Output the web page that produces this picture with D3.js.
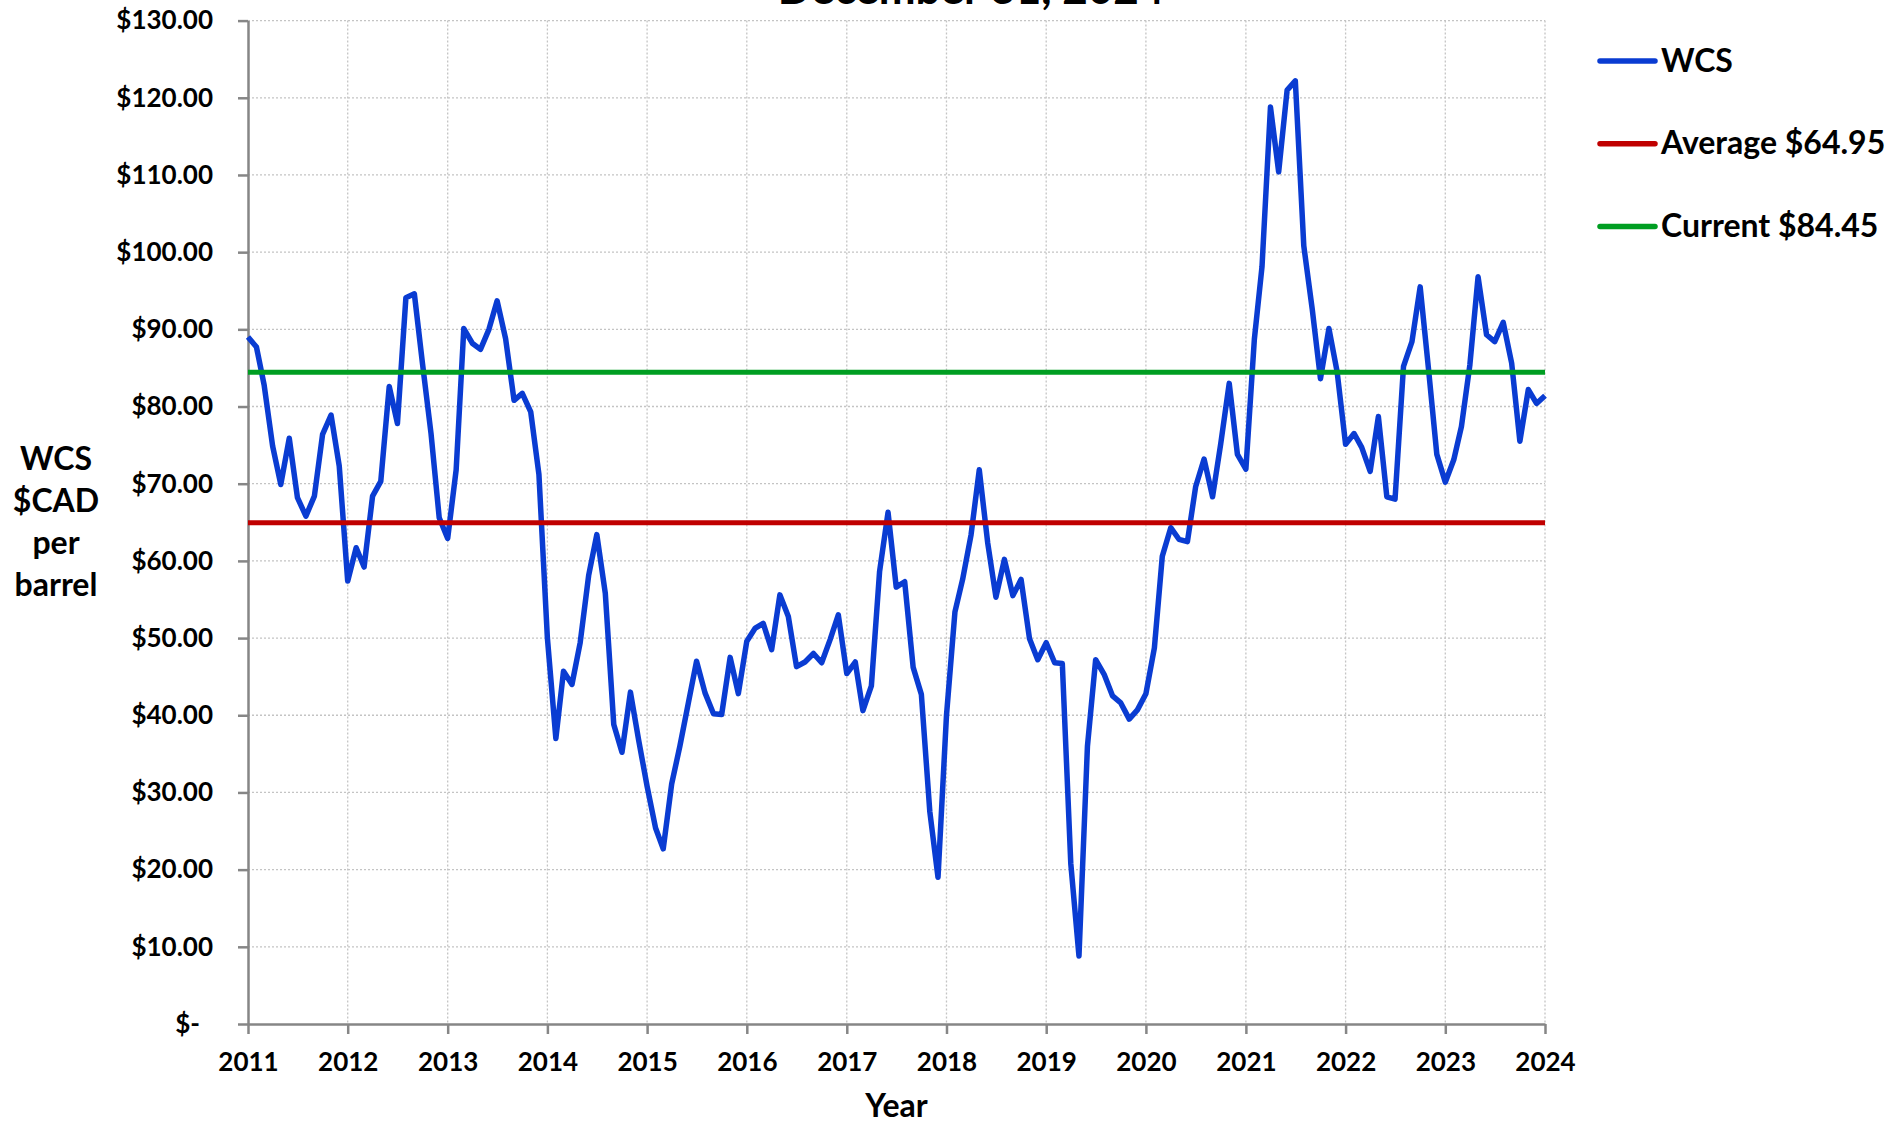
<!DOCTYPE html>
<html>
<head>
<meta charset="utf-8">
<script src="https://cdn.jsdelivr.net/npm/d3@7"></script>
<style>
  body { margin: 0; background: #fff; }
  svg { display: block; }
</style>
</head>
<body>
<div id="chart"></div>
<script>
// Monthly WCS price in $CAD per barrel, Jan 2011 .. Jan 2024
const firstMonth = new Date(2011, 0, 1);
const wcs = [
  89.0, 87.7, 82.8, 74.9, 69.9, 75.9, 68.2, 65.8, 68.4, 76.4, 78.9, 72.3,
  57.4, 61.7, 59.2, 68.4, 70.3, 82.6, 77.8, 94.1, 94.6, 85.5, 76.5, 65.6,
  62.9, 71.8, 90.1, 88.2, 87.4, 90.0, 93.7, 88.8, 80.8, 81.7, 79.3, 71.2,
  50.0, 37.0, 45.7, 44.0, 49.4, 58.1, 63.4, 55.8, 38.8, 35.2, 43.0, 36.8,
  30.8, 25.4, 22.7, 31.1, 36.0, 41.6, 47.0, 42.9, 40.2, 40.1, 47.5, 42.8,
  49.6, 51.3, 51.9, 48.5, 55.6, 52.8, 46.3, 46.9, 48.0, 46.8, 49.8, 53.0,
  45.4, 46.9, 40.6, 43.8, 58.6, 66.3, 56.6, 57.3, 46.2, 42.7, 27.5, 19.0,
  40.0, 53.4, 57.6, 63.4, 71.8, 62.3, 55.3, 60.2, 55.5, 57.6, 49.9, 47.2,
  49.4, 46.8, 46.7, 20.8, 8.8, 36.0, 47.2, 45.3, 42.5, 41.6, 39.5, 40.7,
  42.8, 48.7, 60.6, 64.3, 62.8, 62.5, 69.6, 73.2, 68.3, 75.2, 83.0, 73.8,
  71.9, 88.7, 98.1, 118.8, 110.4, 121.0, 122.2, 100.8, 92.6, 83.6, 90.1, 84.5,
  75.1, 76.5, 74.7, 71.6, 78.7, 68.3, 68.0, 85.2, 88.4, 95.5, 84.7, 73.8,
  70.2, 73.1, 77.4, 85.4, 96.8, 89.3, 88.4, 90.9, 85.6, 75.5, 82.2, 80.4,
  81.4
];
const averagePrice = 64.95;
const currentPrice = 84.45;
const yearTicks = d3.range(2011, 2025);
const priceTicks = d3.range(0, 131, 10);
const legendLabels = ["WCS", `Average $${averagePrice.toFixed(2)}`, `Current $${currentPrice.toFixed(2)}`];
const yTitleLines = ["WCS", "$CAD", "per", "barrel"];
const chartTitle = "December 31, 2024";

const width = 1904;
const height = 1125;
const plotLeft = 248;
const plotRight = 1545;
const plotTop = 20.6;
const plotBottom = 1024;
const font = "Lato, 'Open Sans', sans-serif";

const blue = "#0a3cd2";
const red = "#c00000";
const green = "#009e22";
const axisGray = "#868686";
const gridGray = "#c4c4c4";

const months = wcs.map((_, i) => d3.timeMonth.offset(firstMonth, i));

const x = d3.scaleTime()
  .domain([new Date(yearTicks[0], 0, 1), new Date(yearTicks[yearTicks.length - 1], 0, 1)])
  .range([plotLeft, plotRight]);

const y = d3.scaleLinear()
  .domain([0, 130])
  .range([plotBottom, plotTop]);

const svg = d3.select("#chart")
  .append("svg")
  .attr("width", width)
  .attr("height", height)
  .attr("viewBox", [0, 0, width, height])
  .style("font-family", font)
  .style("font-weight", 700);

// Gridlines
svg.append("g")
  .selectAll("line")
  .data(priceTicks.filter((d) => d > 0))
  .join("line")
  .attr("x1", plotLeft)
  .attr("x2", plotRight)
  .attr("y1", (d) => y(d))
  .attr("y2", (d) => y(d))
  .attr("stroke", gridGray)
  .attr("stroke-width", 1.3)
  .attr("stroke-dasharray", "2,2");

svg.append("g")
  .selectAll("line")
  .data(yearTicks.slice(1))
  .join("line")
  .attr("x1", (d) => x(new Date(d, 0, 1)))
  .attr("x2", (d) => x(new Date(d, 0, 1)))
  .attr("y1", plotTop)
  .attr("y2", plotBottom)
  .attr("stroke", gridGray)
  .attr("stroke-width", 1.3)
  .attr("stroke-dasharray", "2,2");

// Y axis
svg.append("g")
  .attr("transform", `translate(${plotLeft},0)`)
  .call(
    d3.axisLeft(y)
      .tickValues(priceTicks)
      .tickSize(10)
      .tickSizeOuter(0)
      .tickPadding(25)
      .tickFormat((d) => (d === 0 ? "$-" : `$${d.toFixed(2)}`)),
  )
  .call((g) => g.select(".domain").attr("stroke", axisGray).attr("stroke-width", 2.5))
  .call((g) => g.selectAll(".tick line").attr("stroke", axisGray).attr("stroke-width", 2.5))
  .call((g) =>
    g.selectAll(".tick text")
      .attr("fill", "#000")
      .attr("font-size", "26px")
      .attr("font-family", font)
      .attr("font-weight", 700)
      .attr("dx", (d) => (d === 0 ? -13 : 0)),
  );

// X axis
svg.append("g")
  .attr("transform", `translate(0,${plotBottom})`)
  .call(
    d3.axisBottom(x)
      .tickValues(yearTicks.map((d) => new Date(d, 0, 1)))
      .tickSize(10)
      .tickSizeOuter(0)
      .tickPadding(19)
      .tickFormat(d3.timeFormat("%Y")),
  )
  .call((g) => g.select(".domain").attr("stroke", axisGray).attr("stroke-width", 2.5))
  .call((g) => g.selectAll(".tick line").attr("stroke", axisGray).attr("stroke-width", 2.5))
  .call((g) =>
    g.selectAll(".tick text")
      .attr("fill", "#000")
      .attr("font-size", "26px")
      .attr("font-family", font)
      .attr("font-weight", 700),
  );

// WCS series
svg.append("path")
  .datum(wcs)
  .attr("fill", "none")
  .attr("stroke", blue)
  .attr("stroke-width", 5.5)
  .attr("stroke-linejoin", "round")
  .attr("d", d3.line().x((d, i) => x(months[i])).y((d) => y(d)));

// Average and current reference lines
svg.append("g")
  .selectAll("line")
  .data([
    { value: averagePrice, color: red },
    { value: currentPrice, color: green },
  ])
  .join("line")
  .attr("x1", x.range()[0])
  .attr("x2", x.range()[1])
  .attr("y1", (d) => y(d.value))
  .attr("y2", (d) => y(d.value))
  .attr("stroke", (d) => d.color)
  .attr("stroke-width", 5);

// Legend
const legendColors = [blue, red, green];
const legend = svg.append("g")
  .selectAll("g")
  .data(legendLabels)
  .join("g")
  .attr("transform", (d, i) => `translate(1600,${61 + i * 82.8})`);

legend.append("line")
  .attr("x1", 0)
  .attr("x2", 55)
  .attr("stroke", (d, i) => legendColors[i])
  .attr("stroke-width", 5.5)
  .attr("stroke-linecap", "round");

legend.append("text")
  .attr("x", 61)
  .attr("y", 10.5)
  .attr("font-size", "32px")
  .text((d) => d);

// Axis titles
svg.append("text")
  .attr("text-anchor", "middle")
  .attr("font-size", "32px")
  .selectAll("tspan")
  .data(yTitleLines)
  .join("tspan")
  .attr("x", 56)
  .attr("y", (d, i) => 470 + i * 42)
  .text((d) => d);

svg.append("text")
  .attr("x", (plotLeft + plotRight) / 2)
  .attr("y", 1117)
  .attr("text-anchor", "middle")
  .attr("font-size", "32px")
  .text("Year");

// Title (top of it runs off the page, as in the original)
svg.append("text")
  .attr("x", 971)
  .attr("y", 4)
  .attr("text-anchor", "middle")
  .attr("font-size", "44px")
  .text(chartTitle);
</script>
</body>
</html>
